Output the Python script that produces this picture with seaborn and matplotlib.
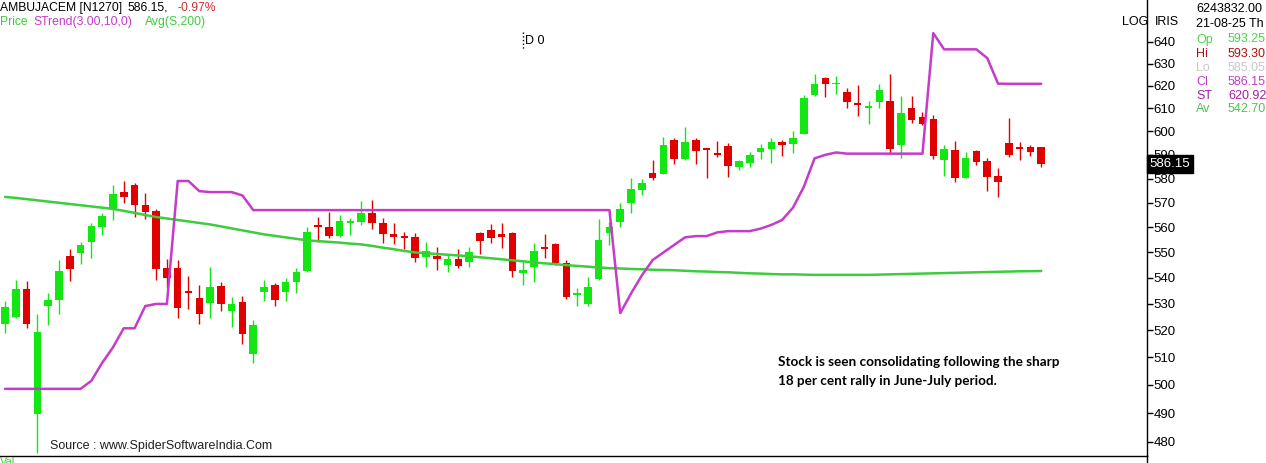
import numpy as np
import pandas as pd
import matplotlib
matplotlib.use("Agg")
import matplotlib.pyplot as plt
import matplotlib.transforms as mtransforms
from matplotlib.lines import Line2D
from matplotlib.ticker import FixedLocator, NullLocator, FixedFormatter
import seaborn as sns

# daily OHLC
opens = [522.3, 525.0, 535.6, 489.7, 529.2, 531.6, 548.5, 549.6, 554.0, 560.0,
         567.5, 574.4, 577.2, 569.2, 566.7, 543.8, 543.8, 534.8, 532.4, 530.4,
         536.8, 527.3, 530.8, 511.1, 534.4, 537.2, 534.4, 538.4, 542.7, 560.6,
         560.0, 556.4, 561.9, 562.1, 565.8, 561.7, 557.2, 556.2, 556.0, 548.1,
         548.5, 545.0, 547.3, 546.2, 557.6, 558.8, 557.2, 557.6, 541.9, 544.2,
         551.8, 553.2, 545.8, 533.4, 530.0, 539.6, 557.6, 562.1, 570.0, 575.2,
         582.4, 582.0, 596.5, 588.4, 596.5, 592.3, 590.9, 593.9, 584.8, 586.4,
         591.3, 592.6, 595.6, 594.8, 599.1, 616.1, 623.5, 620.7, 617.4, 612.6,
         610.2, 613.0, 613.5, 594.3, 610.4, 606.4, 605.5, 588.0, 592.2, 580.4,
         591.7, 587.6, 581.2, 595.2, 592.8, 593.5, 593.25]
highs = [531.2, 539.2, 538.8, 526.2, 534.0, 546.9, 551.2, 554.0, 561.7, 565.8,
         577.2, 579.2, 578.0, 574.0, 567.5, 547.3, 546.9, 540.8, 537.2, 544.2,
         538.4, 532.8, 533.2, 523.8, 539.2, 538.0, 540.0, 543.8, 560.0, 564.2,
         566.2, 565.0, 563.8, 570.8, 571.2, 563.8, 561.7, 558.0, 557.6, 554.0,
         552.0, 549.2, 551.2, 552.0, 558.0, 561.2, 561.7, 558.0, 546.9, 553.6,
         557.2, 553.6, 546.9, 536.0, 540.4, 563.3, 562.0, 570.0, 580.4, 580.0,
         588.0, 597.8, 597.4, 601.8, 597.0, 592.6, 596.0, 595.2, 588.0, 591.3,
         594.8, 597.4, 596.5, 600.0, 616.1, 625.3, 623.9, 624.4, 619.1, 620.5,
         613.5, 620.9, 625.3, 615.6, 615.6, 608.6, 607.3, 594.3, 596.1, 591.3,
         592.2, 588.8, 584.4, 606.0, 595.6, 594.3, 593.30]
lows = [518.9, 524.5, 520.8, 476.0, 521.9, 526.2, 538.8, 545.4, 547.7, 556.8,
        562.9, 570.0, 564.2, 563.3, 539.2, 536.0, 524.6, 528.1, 522.3, 524.6,
        527.3, 521.2, 515.0, 507.8, 531.2, 529.2, 531.2, 534.0, 542.3, 554.0,
        555.6, 556.0, 556.8, 560.8, 559.2, 553.6, 553.2, 551.2, 546.2, 544.2,
        543.1, 542.3, 543.8, 544.2, 549.2, 553.6, 551.6, 540.4, 537.2, 538.4,
        547.7, 545.0, 532.0, 529.2, 529.2, 539.2, 552.8, 560.0, 565.8, 573.2,
        579.6, 582.0, 586.0, 588.0, 586.0, 580.4, 589.2, 580.8, 583.6, 584.8,
        588.4, 586.4, 589.6, 590.9, 598.7, 615.6, 615.2, 616.5, 610.0, 606.8,
        603.2, 610.0, 590.4, 588.8, 603.6, 602.7, 588.4, 581.2, 578.4, 580.4,
        585.6, 574.8, 572.4, 589.2, 588.0, 589.6, 585.05]
closes = [528.8, 535.6, 522.3, 519.6, 531.6, 542.7, 543.5, 552.8, 560.4, 564.6,
          573.6, 572.4, 569.2, 566.2, 543.5, 540.0, 528.5, 534.2, 526.2, 536.4,
          530.0, 530.0, 518.6, 521.9, 536.4, 531.6, 538.4, 542.3, 558.0, 560.2,
          556.4, 562.5, 562.3, 565.8, 561.7, 557.2, 556.0, 555.8, 547.7, 550.4,
          547.3, 547.3, 544.6, 550.0, 554.4, 555.6, 556.0, 542.7, 543.1, 550.4,
          551.4, 545.8, 532.8, 533.8, 536.4, 554.8, 560.0, 567.5, 575.6, 578.0,
          580.4, 594.3, 588.4, 595.6, 591.7, 591.9, 590.0, 585.2, 587.2, 590.0,
          593.0, 595.6, 594.3, 597.0, 614.8, 620.9, 620.9, 621.1, 613.0, 611.7,
          610.6, 618.3, 592.6, 608.2, 605.0, 603.2, 589.6, 592.6, 580.4, 588.8,
          586.8, 580.8, 578.4, 590.0, 592.4, 591.3, 586.15]

# SuperTrend(3,10) line
strend = [498.6, 498.6, 498.6, 498.6, 498.6, 498.6, 498.6, 498.6, 501.5, 508.0,
          513.7, 520.8, 520.8, 529.2, 530.0, 530.0, 579.0, 579.0, 574.8, 574.4,
          574.4, 574.4, 573.0, 567.0, 567.0, 567.0, 567.0, 567.0, 567.0, 567.0,
          567.0, 567.0, 567.0, 567.0, 567.0, 567.0, 567.0, 567.0, 567.0, 567.0,
          567.0, 567.0, 567.0, 567.0, 567.0, 567.0, 567.0, 567.0, 567.0, 567.0,
          567.0, 567.0, 567.0, 567.0, 567.0, 567.0, 567.0, 526.5, 534.0, 541.0,
          547.0, 550.0, 553.0, 556.0, 556.5, 556.5, 558.0, 558.5, 558.5, 558.5,
          559.5, 561.0, 563.0, 568.0, 576.5, 588.5, 590.0, 591.0, 590.5, 590.5,
          590.5, 590.5, 590.5, 590.5, 590.5, 590.5, 644.0, 636.5, 636.5, 636.5,
          636.5, 632.5, 621.0, 620.92, 620.92, 620.92, 620.92]

# 200 day simple average
avg200 = [572.4, 572.0, 571.5, 571.0, 570.5, 570.0, 569.5, 569.0, 568.5, 568.0,
          567.5, 566.7, 565.9, 565.0, 564.2, 563.6, 563.0, 562.4, 561.8, 561.2,
          560.4, 559.6, 558.8, 558.0, 557.2, 556.6, 556.0, 555.4, 554.8, 554.5,
          554.2, 553.9, 553.5, 553.2, 552.6, 551.9, 551.3, 550.6, 550.0, 549.7,
          549.4, 549.1, 548.8, 548.5, 548.1, 547.7, 547.3, 546.9, 546.5, 546.1,
          545.7, 545.4, 545.0, 544.7, 544.4, 544.1, 543.8, 543.7, 543.5, 543.4,
          543.2, 543.1, 543.0, 542.8, 542.6, 542.5, 542.3, 542.2, 542.0, 541.8,
          541.7, 541.5, 541.4, 541.4, 541.3, 541.2, 541.2, 541.2, 541.2, 541.2,
          541.2, 541.3, 541.4, 541.5, 541.6, 541.7, 541.8, 541.9, 542.0, 542.1,
          542.2, 542.3, 542.4, 542.5, 542.6, 542.65, 542.7]

yticks = [480, 490, 500, 510, 520, 530, 540, 550, 560, 570, 580, 590, 600, 610, 620, 630, 640]

GREEN = "#14e614"
RED = "#e00000"
ST_COL = "#c43cc8"
MA_COL = "#3ccc3c"

W, H = 1266, 463

df = pd.DataFrame({"day": np.arange(len(closes)), "open": opens, "high": highs,
                   "low": lows, "close": closes, "st": strend, "ma": avg200})

sns.set_style("white")
plt.rcParams["font.family"] = ["Liberation Sans", "DejaVu Sans"]

fig = plt.figure(figsize=(W / 100, H / 100), dpi=100)
ax = fig.add_axes([0, 1 - 455.7 / H, 1147 / W, 455.7 / H])
ax.set_yscale("log")

up = df["close"] >= df["open"]
cols = np.where(up, GREEN, RED)
body_lo = np.minimum(df["open"], df["close"])
body_h = np.maximum((df["close"] - df["open"]).abs(), 0.8)

# candles: wicks then bodies
ax.vlines(df["day"], df["low"], df["high"], colors=cols, linewidth=1, zorder=2)
ax.bar(df["day"], body_h, bottom=body_lo, width=0.7, color=cols, linewidth=0, zorder=3)

sns.lineplot(data=df, x="day", y="ma", ax=ax, color=MA_COL, linewidth=1.8, zorder=4)
sns.lineplot(data=df, x="day", y="st", ax=ax, color=ST_COL, linewidth=1.8, zorder=5)

ax.set_xlim(-0.463, 105.8)
ax.set_ylim(475.2, 659.5)
ax.set_xlabel("")
ax.set_ylabel("")
ax.set_xticks([])
ax.yaxis.tick_right()
ax.yaxis.set_major_locator(FixedLocator(yticks))
ax.yaxis.set_major_formatter(FixedFormatter([str(t) for t in yticks]))
ax.yaxis.set_minor_locator(NullLocator())
ax.tick_params(axis="y", direction="out", length=4, width=1, pad=0.5,
               labelsize=9.5, colors="black")
for s in ["left", "top"]:
    ax.spines[s].set_visible(False)
for s in ["right", "bottom"]:
    ax.spines[s].set_color("black")
    ax.spines[s].set_linewidth(1)

# last price box on the axis
trans = mtransforms.blended_transform_factory(ax.transAxes, ax.transData)
ax.text(1.002, 586.15, "586.15", transform=trans, ha="left", va="center",
        color="white", fontsize=9.5, clip_on=False, zorder=10,
        bbox=dict(boxstyle="square,pad=0.2", fc="black", ec="black"))

fig.add_artist(Line2D([1147 / W, 1147 / W], [0, 1 - 455 / H], color="black", lw=1))


def ftext(x, y, s, **kw):
    fig.text(x / W, 1 - y / H, s, va="center", ha="left", **kw)


# header
ftext(0, 8, "AMBUJACEM [N1270]", fontsize=8.7, color="black")
ftext(128, 8, "586.15,", fontsize=8.7, color="black")
ftext(177, 8, "-0.97%", fontsize=8.7, color="#d03030")
ftext(0, 22, "Price", fontsize=8.7, color=MA_COL)
ftext(33, 22, "STrend(3.00,10,0)", fontsize=8.7, color=ST_COL)
ftext(145, 22, "Avg(S,200)", fontsize=8.7, color=MA_COL)

ftext(525, 41, "D 0", fontsize=9, color="black")
fig.add_artist(Line2D([523 / W, 523 / W], [1 - 32 / H, 1 - 50 / H], ls=":", color="black", lw=1))

ftext(1122, 22, "LOG", fontsize=9, color="black")
ftext(1155, 22, "IRIS", fontsize=9, color="black")

# info panel
ftext(1196, 9, "6243832.00", fontsize=9, color="black")
ftext(1196, 24, "21-08-25 Th", fontsize=9, color="black")
info_lab = ["Op", "Hi", "Lo", "Cl", "ST", "Av"]
info_val = ["593.25", "593.30", "585.05", "586.15", "620.92", "542.70"]
info_col = ["#4cd44c", "#b01010", "#c8c8c8", "#c040c8", "#a020a8", "#4cc44c"]
info_y = [39.5, 54, 68, 82, 96, 109.5]
for lab, val, c, y in zip(info_lab, info_val, info_col, info_y):
    ftext(1196, y, lab, fontsize=9, color=c)
    ftext(1228, y, val, fontsize=9, color=c)

# annotation
ftext(778, 362, "Stock is seen consolidating following the sharp", fontsize=9.7,
      fontweight="bold", family="Lato", color="black")
ftext(778, 381, "18 per cent rally in June-July period.", fontsize=9.7,
      fontweight="bold", family="Lato", color="black")

ftext(50, 446, "Source : www.SpiderSoftwareIndia.Com", fontsize=9, color="#202020")
ftext(0, 462, "Val", fontsize=8, color=MA_COL)

fig.savefig("out.png", dpi=100)
